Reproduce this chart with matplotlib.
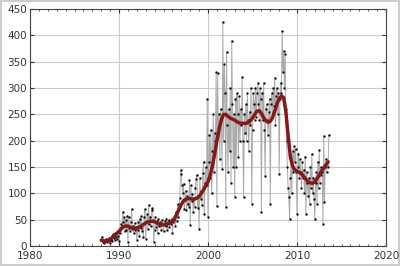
import matplotlib
matplotlib.use("Agg")
import matplotlib.pyplot as plt
import numpy as np

# monthly values, Jan 1988 .. Aug 2013
values = [
    12, 18, 8, 10, 6, 11, 9, 14, 7, 12, 10, 15,            # 1988
    5, 12, 20, 10, 22, 16, 12, 24, 18, 14, 26, 20,         # 1989
    10, 30, 25, 42, 35, 65, 45, 55, 28, 50, 30, 58,        # 1990
    8, 55, 35, 28, 45, 70, 32, 38, 25, 44, 30, 36,         # 1991
    12, 30, 45, 20, 52, 35, 58, 28, 42, 18, 55, 70,        # 1992
    13, 45, 60, 32, 78, 42, 55, 38, 68, 72, 50, 8,         # 1993
    30, 55, 36, 48, 25, 52, 38, 45, 40, 30, 50, 42,        # 1994
    28, 40, 48, 38, 52, 30, 45, 50, 36, 48, 42, 52,        # 1995
    24, 45, 50, 58, 38, 65, 48, 80, 55, 75, 92, 144,       # 1996
    137, 115, 100, 118, 70, 88, 105, 68, 95, 80, 75, 125,  # 1997
    40, 115, 85, 98, 65, 92, 75, 110, 128, 135, 72, 95,    # 1998
    32, 130, 90, 105, 78, 138, 160, 60, 120, 150, 115, 280,  # 1999
    55, 160, 210, 130, 220, 100, 180, 250, 140, 215, 200, 330,  # 2000
    76, 328, 212, 250, 165, 260, 240, 146, 425, 200, 345, 290,  # 2001
    74, 368, 230, 140, 260, 180, 300, 120, 390, 270, 150, 250,  # 2002
    93, 280, 150, 290, 250, 170, 285, 200, 260, 230, 321, 200,  # 2003
    93, 250, 215, 270, 200, 290, 240, 180, 255, 230, 300, 80,   # 2004
    220, 290, 270, 240, 300, 245, 290, 310, 270, 240, 300, 280,  # 2005
    65, 290, 240, 310, 220, 133, 260, 270, 240, 210, 255, 280,   # 2006
    80, 270, 290, 250, 300, 265, 320, 230, 285, 300, 250, 290,   # 2007
    136, 280, 310, 290, 408, 330, 370, 300, 364, 260, 200, 150,  # 2008
    110, 93, 51, 130, 160, 100, 180, 140, 190, 160, 185, 140,    # 2009
    61, 150, 175, 130, 165, 140, 110, 160, 130, 145, 100, 170,   # 2010
    61, 140, 120, 95, 130, 80, 150, 110, 175, 100, 130, 90,      # 2011
    51, 120, 140, 80, 160, 110, 182, 120, 150, 135, 140, 42,     # 2012
    209, 83, 150, 165, 140, 160, 150, 211,                       # 2013
]
start_year = 1988

# smoothed trend, quarterly from 1988.0
trend = [
    11, 10, 9, 10, 13, 16, 20, 24, 28, 33, 37, 38,
    38, 36, 35, 34, 34, 36, 38, 41, 44, 46, 47, 47,
    46, 44, 42, 41, 41, 41, 42, 44, 47, 53, 61, 70,
    79, 86, 89, 90, 90, 89, 89, 91, 94, 100, 107, 115,
    122, 135, 152, 175, 200, 222, 240, 250, 250, 246, 243, 241,
    239, 236, 234, 233, 233, 233, 234, 238, 243, 250, 256, 257,
    252, 244, 238, 235, 237, 244, 256, 270, 280, 285, 282, 255,
    210, 170, 152, 145, 142, 140, 137, 132, 127, 122, 120, 119,
    122, 128, 135, 142, 148, 154, 160,
]

t = start_year + np.arange(len(values)) / 12.0
tt = start_year + np.arange(len(trend)) / 4.0

fig = plt.figure(figsize=(4, 2.66), dpi=100, edgecolor='#cccccc', linewidth=1.5)
ax = fig.add_axes([0.075, 0.075, 0.89, 0.891])

ax.plot(t, values, color='#aaaaaa', lw=0.7, marker='s', ms=1.0,
        mfc='black', mec='black', mew=0.4, zorder=2)
ax.plot(tt, trend, color='#861818', lw=2.5, zorder=3, solid_capstyle='round')

ax.set_xlim(1980, 2020)
ax.set_ylim(0, 450)
ax.set_xticks(range(1980, 2021, 10))
ax.set_xticks(range(1980, 2021, 1), minor=True)
ax.set_yticks(range(0, 451, 50))
ax.grid(True, which='major', color='#cccccc', lw=0.8, zorder=0)
ax.set_axisbelow(True)
ax.tick_params(which='both', direction='in', top=True, right=True, labelsize=7.5,
               colors='#333333')
ax.tick_params(axis='y', pad=2)
ax.tick_params(axis='x', pad=3.5)
ax.tick_params(which='major', length=3)
ax.tick_params(which='minor', length=1.5)
for s in ax.spines.values():
    s.set_color('#444444')
    s.set_linewidth(0.8)

fig.savefig('out.png', dpi=100)
